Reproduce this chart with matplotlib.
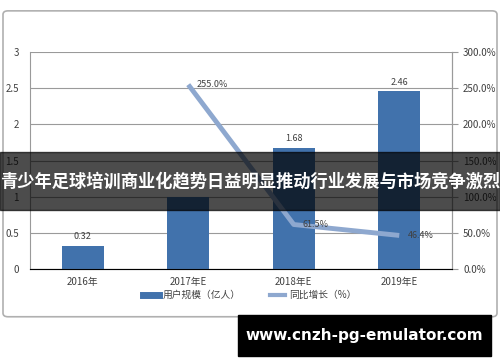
import matplotlib.pyplot as plt
from matplotlib.lines import Line2D
from matplotlib.patches import FancyBboxPatch, Rectangle
from matplotlib.ticker import FuncFormatter

plt.rcParams["font.family"] = ["Noto Sans CJK SC", "DejaVu Sans"]

years = ["2016年", "2017年E", "2018年E", "2019年E"]
users = [0.32, 1.0, 1.68, 2.46]
growth_years = ["2017年E", "2018年E", "2019年E"]
growth = [255.0, 61.5, 46.4]

bar_color = "#4172AC"
line_color = "#8EA8CF"
text_color = "#404040"

fig = plt.figure(figsize=(5, 3.62), dpi=100)

# outer frame
fig.patches.append(FancyBboxPatch((0.006, 0.125), 0.988, 0.845,
                                  boxstyle="round,pad=0,rounding_size=0.01",
                                  transform=fig.transFigure, fill=False,
                                  ec="#b0b0b0", lw=1.2, zorder=0))

ax = fig.add_axes([0.06, 0.257, 0.844, 0.599])
x = list(range(len(years)))
bars = ax.bar(x, users, width=0.4, color=bar_color, zorder=2)
for xi, v in zip(x, users):
    if v != 1.0:
        ax.text(xi, v + 0.06, f"{v:.2f}", ha="center", va="bottom",
                fontsize=6.5, color=text_color)

ax.set_xlim(-0.5, 3.5)
ax.set_ylim(0, 3)
ax.set_yticks([0, 0.5, 1, 1.5, 2, 2.5, 3])
ax.set_yticklabels(["0", "0.5", "1", "1.5", "2", "2.5", "3"])
ax.set_xticks(x)
ax.set_xticklabels(years)
ax.tick_params(axis="y", length=0, labelsize=7, colors=text_color, pad=8)
ax.tick_params(axis="x", length=0, labelsize=7, colors=text_color, pad=6)
ax.grid(axis="y", color="#9a9a9a", lw=0.8, zorder=0)
ax.spines["top"].set_visible(False)
for s in ["left", "right", "bottom"]:
    ax.spines[s].set_color("#9a9a9a")

ax2 = ax.twinx()
gx = [years.index(g) for g in growth_years]
ax2.plot(gx, growth, color=line_color, lw=3.5, solid_capstyle="butt", zorder=3)
for xi, v in zip(gx, growth):
    ax2.text(xi + 0.08, v, f"{v:.1f}%", ha="left", va="center",
             fontsize=6.5, color=text_color)
ax2.set_ylim(0, 300)
ax2.set_yticks([0, 50, 100, 150, 200, 250, 300])
ax2.yaxis.set_major_formatter(FuncFormatter(lambda v, p: f"{v:.1f}%"))
ax2.tick_params(axis="y", length=4, labelsize=7, colors=text_color,
                color="#9a9a9a", pad=4)
ax2.spines["top"].set_visible(False)
ax2.spines["right"].set_color("#9a9a9a")
ax2.spines["left"].set_visible(False)

handles = [Line2D([0], [0], color=bar_color, lw=5),
           Line2D([0], [0], color=line_color, lw=3)]
fig.legend(handles, ["用户规模（亿人）", "同比增长（%）"], loc="center",
           bbox_to_anchor=(0.5, 0.185), ncol=2, frameon=False, fontsize=7,
           handlelength=1.6, columnspacing=3, handletextpad=0.4,
           labelcolor=text_color)

# dark banner with headline
fig.patches.append(Rectangle((0, 0.42), 1, 0.16, transform=fig.transFigure,
                             color="black", alpha=0.7, zorder=10))
fig.text(0.5, 0.5, "青少年足球培训商业化趋势日益明显推动行业发展与市场竞争激烈",
         ha="center", va="center", color="white", fontsize=12.4,
         fontweight="bold", zorder=11)

# site box
fig.patches.append(Rectangle((0.476, 0.017), 0.506, 0.113,
                             transform=fig.transFigure, color="black", zorder=10))
fig.text(0.729, 0.073, "www.cnzh-pg-emulator.com", ha="center", va="center",
         color="white", fontsize=11, fontweight="bold",
         family="DejaVu Sans", zorder=11)

fig.savefig("out.png", dpi=100)
